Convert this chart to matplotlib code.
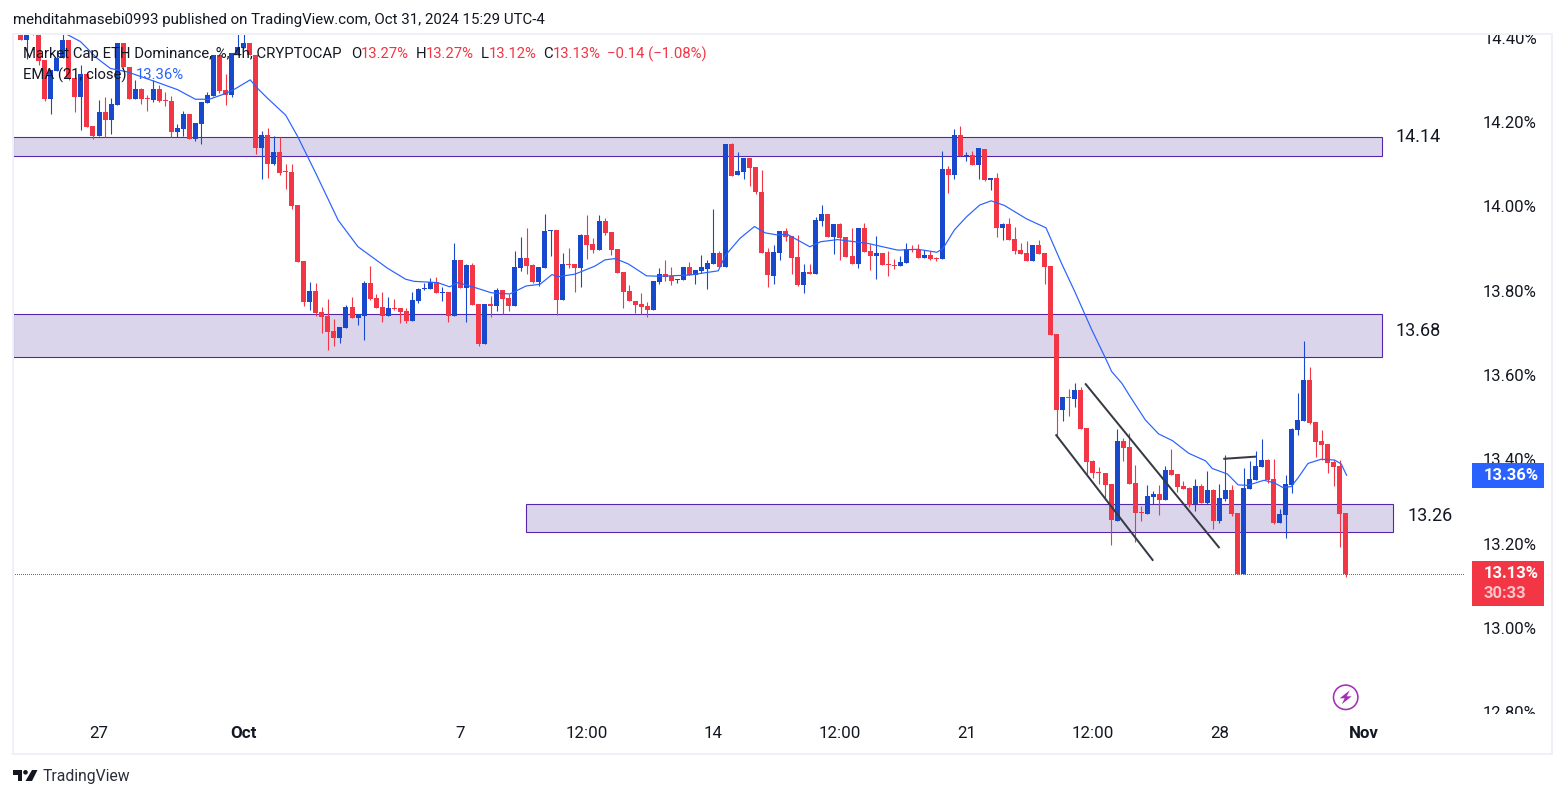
import numpy as np
import matplotlib
matplotlib.use('Agg')
import matplotlib.pyplot as plt
from matplotlib.patches import Rectangle, Circle, Polygon

plt.rcParams['font.family'] = 'Roboto'

# --- candles, one per 4h bar ---
opens = [
    14.44, 14.394, 14.406, 14.42, 14.347, 14.254, 14.321, 14.351, 14.394, 14.305,
    14.259, 14.313, 14.190, 14.167, 14.224, 14.205, 14.240, 14.387, 14.330, 14.254,
    14.278, 14.257, 14.252, 14.278, 14.252, 14.250, 14.176, 14.183, 14.219, 14.160,
    14.195, 14.245, 14.262, 14.359, 14.276, 14.264, 14.361, 14.375, 14.387, 14.359,
    14.138, 14.169, 14.100, 14.129, 14.084, 14.081, 14.003, 13.870, 13.773, 13.799,
    13.749, 13.740, 13.704, 13.687, 13.711, 13.761, 13.735, 13.740, 13.818, 13.782,
    13.761, 13.740, 13.759, 13.759, 13.752, 13.728, 13.775, 13.804, 13.804, 13.820,
    13.794, 13.797, 13.740, 13.873, 13.806, 13.861, 13.768, 13.673, 13.768, 13.763,
    13.801, 13.782, 13.763, 13.854, 13.877, 13.861, 13.820, 13.854, 13.941, 13.944,
    13.778, 13.863, 13.863, 13.854, 13.932, 13.911, 13.896, 13.965, 13.939, 13.899,
    13.844, 13.799, 13.775, 13.768, 13.763, 13.754, 13.820, 13.839, 13.834, 13.824,
    13.825, 13.856, 13.837, 13.846, 13.851, 13.863, 13.889, 13.856, 14.148, 14.074,
    14.081, 14.115, 14.093, 14.034, 13.891, 13.834, 13.889, 13.941, 13.929, 13.880,
    13.813, 13.844, 13.839, 13.965, 13.982, 13.927, 13.958, 13.927, 13.882, 13.863,
    13.948, 13.894, 13.882, 13.889, 13.863, 13.861, 13.858, 13.865, 13.899, 13.896,
    13.877, 13.884, 13.877, 13.875, 14.088, 14.074, 14.169, 14.119, 14.122, 14.098,
    14.136, 14.062, 14.067, 13.948, 13.958, 13.922, 13.896, 13.889, 13.870, 13.908,
    13.889, 13.858, 13.697, 13.517, 13.548, 13.543, 13.564, 13.474, 13.396, 13.370,
    13.367, 13.341, 13.253, 13.443, 13.429, 13.343, 13.275, 13.270, 13.310, 13.317,
    13.303, 13.374, 13.365, 13.336, 13.332, 13.294, 13.336, 13.296, 13.327, 13.253,
    13.305, 13.327, 13.272, 13.128, 13.329, 13.351, 13.381, 13.398, 13.353, 13.249,
    13.268, 13.339, 13.469, 13.491, 13.588, 13.488, 13.443, 13.436, 13.393, 13.384,
    13.272]
closes = [
    14.394, 14.406, 14.408, 14.345, 14.254, 14.323, 14.351, 14.394, 14.302, 14.259,
    14.313, 14.188, 14.167, 14.224, 14.205, 14.243, 14.387, 14.330, 14.254, 14.278,
    14.254, 14.254, 14.278, 14.250, 14.249, 14.176, 14.186, 14.219, 14.160, 14.197,
    14.247, 14.264, 14.359, 14.273, 14.264, 14.364, 14.378, 14.387, 14.359, 14.138,
    14.169, 14.100, 14.129, 14.079, 14.081, 14.000, 13.869, 13.773, 13.799, 13.747,
    13.737, 13.702, 13.687, 13.714, 13.761, 13.735, 13.744, 13.818, 13.780, 13.759,
    13.740, 13.759, 13.756, 13.749, 13.728, 13.778, 13.804, 13.806, 13.820, 13.794,
    13.797, 13.740, 13.873, 13.806, 13.861, 13.766, 13.673, 13.768, 13.763, 13.801,
    13.780, 13.763, 13.856, 13.877, 13.858, 13.820, 13.856, 13.941, 13.944, 13.778,
    13.863, 13.861, 13.854, 13.932, 13.908, 13.896, 13.965, 13.937, 13.896, 13.842,
    13.797, 13.775, 13.766, 13.761, 13.754, 13.823, 13.839, 13.832, 13.823, 13.827,
    13.856, 13.837, 13.849, 13.856, 13.865, 13.889, 13.856, 14.148, 14.072, 14.084,
    14.115, 14.091, 14.034, 13.889, 13.837, 13.891, 13.941, 13.927, 13.877, 13.813,
    13.844, 13.839, 13.967, 13.982, 13.927, 13.958, 13.925, 13.880, 13.863, 13.948,
    13.891, 13.882, 13.889, 13.861, 13.861, 13.858, 13.868, 13.899, 13.896, 13.877,
    13.884, 13.875, 13.875, 14.088, 14.074, 14.169, 14.119, 14.122, 14.098, 14.138,
    14.062, 14.067, 13.948, 13.958, 13.920, 13.894, 13.887, 13.870, 13.908, 13.887,
    13.856, 13.695, 13.517, 13.548, 13.545, 13.564, 13.472, 13.393, 13.367, 13.367,
    13.339, 13.256, 13.443, 13.426, 13.341, 13.272, 13.272, 13.313, 13.317, 13.303,
    13.374, 13.362, 13.334, 13.329, 13.291, 13.336, 13.296, 13.327, 13.253, 13.308,
    13.327, 13.270, 13.128, 13.332, 13.353, 13.384, 13.398, 13.351, 13.249, 13.270,
    13.341, 13.472, 13.493, 13.588, 13.486, 13.441, 13.434, 13.391, 13.381, 13.270,
    13.128]
highs = [
    14.45, 14.42, 14.412, 14.43, 14.347, 14.323, 14.372, 14.410, 14.394, 14.305,
    14.335, 14.313, 14.190, 14.252, 14.259, 14.257, 14.387, 14.387, 14.330, 14.300,
    14.281, 14.264, 14.300, 14.288, 14.271, 14.262, 14.195, 14.226, 14.219, 14.197,
    14.247, 14.271, 14.359, 14.359, 14.314, 14.364, 14.415, 14.415, 14.387, 14.359,
    14.179, 14.186, 14.167, 14.164, 14.100, 14.100, 14.003, 13.870, 13.820, 13.818,
    13.761, 13.780, 13.733, 13.714, 13.766, 13.785, 13.744, 13.823, 13.858, 13.792,
    13.797, 13.785, 13.780, 13.759, 13.759, 13.797, 13.806, 13.818, 13.830, 13.832,
    13.808, 13.797, 13.913, 13.873, 13.863, 13.865, 13.768, 13.768, 13.787, 13.806,
    13.801, 13.792, 13.894, 13.927, 13.948, 13.863, 13.856, 13.982, 13.944, 13.944,
    13.889, 13.901, 13.863, 13.934, 13.979, 13.925, 13.979, 13.972, 13.939, 13.899,
    13.844, 13.813, 13.775, 13.794, 13.773, 13.823, 13.854, 13.872, 13.856, 13.827,
    13.856, 13.868, 13.849, 13.884, 13.872, 13.993, 13.894, 14.148, 14.150, 14.129,
    14.115, 14.115, 14.093, 14.086, 13.901, 13.908, 13.941, 13.948, 13.929, 13.932,
    13.863, 13.863, 13.974, 14.003, 13.982, 13.958, 13.960, 13.927, 13.948, 13.948,
    13.960, 13.910, 13.929, 13.889, 13.894, 13.875, 13.882, 13.913, 13.908, 13.910,
    13.896, 13.894, 13.880, 14.131, 14.096, 14.183, 14.190, 14.129, 14.131, 14.138,
    14.136, 14.067, 14.079, 13.960, 13.972, 13.951, 13.913, 13.918, 13.908, 13.920,
    13.889, 13.858, 13.697, 13.548, 13.567, 13.581, 13.571, 13.474, 13.398, 13.381,
    13.367, 13.341, 13.472, 13.450, 13.462, 13.386, 13.289, 13.339, 13.324, 13.339,
    13.384, 13.424, 13.366, 13.348, 13.334, 13.353, 13.341, 13.372, 13.329, 13.341,
    13.410, 13.339, 13.272, 13.379, 13.396, 13.419, 13.448, 13.400, 13.400, 13.282,
    13.362, 13.474, 13.557, 13.680, 13.619, 13.488, 13.469, 13.436, 13.398, 13.398,
    13.272]
lows = [
    14.394, 14.349, 14.406, 14.335, 14.250, 14.220, 14.321, 14.351, 14.300, 14.224,
    14.181, 14.188, 14.160, 14.167, 14.164, 14.171, 14.240, 14.323, 14.254, 14.254,
    14.243, 14.226, 14.247, 14.247, 14.238, 14.164, 14.164, 14.167, 14.160, 14.155,
    14.148, 14.245, 14.262, 14.269, 14.240, 14.259, 14.361, 14.375, 14.359, 14.124,
    14.065, 14.067, 14.098, 14.074, 14.041, 13.993, 13.869, 13.763, 13.754, 13.740,
    13.699, 13.659, 13.668, 13.676, 13.711, 13.735, 13.718, 13.683, 13.778, 13.759,
    13.725, 13.740, 13.754, 13.723, 13.723, 13.728, 13.770, 13.801, 13.804, 13.794,
    13.775, 13.725, 13.740, 13.806, 13.725, 13.766, 13.668, 13.673, 13.737, 13.752,
    13.744, 13.752, 13.763, 13.846, 13.839, 13.818, 13.811, 13.854, 13.882, 13.742,
    13.778, 13.854, 13.797, 13.808, 13.875, 13.889, 13.896, 13.932, 13.884, 13.842,
    13.759, 13.775, 13.747, 13.744, 13.737, 13.754, 13.815, 13.823, 13.813, 13.818,
    13.825, 13.837, 13.815, 13.842, 13.804, 13.863, 13.856, 13.856, 14.072, 14.074,
    14.065, 14.048, 14.029, 13.889, 13.808, 13.815, 13.872, 13.918, 13.839, 13.811,
    13.794, 13.839, 13.839, 13.953, 13.927, 13.887, 13.872, 13.880, 13.863, 13.853,
    13.891, 13.849, 13.827, 13.861, 13.834, 13.851, 13.858, 13.865, 13.891, 13.877,
    13.877, 13.872, 13.870, 13.875, 14.031, 14.065, 14.119, 14.107, 14.098, 14.065,
    14.060, 14.039, 13.927, 13.920, 13.920, 13.887, 13.887, 13.870, 13.870, 13.887,
    13.815, 13.695, 13.452, 13.491, 13.503, 13.524, 13.472, 13.365, 13.355, 13.341,
    13.303, 13.196, 13.253, 13.396, 13.341, 13.203, 13.253, 13.270, 13.294, 13.268,
    13.303, 13.362, 13.322, 13.329, 13.286, 13.277, 13.296, 13.294, 13.234, 13.249,
    13.301, 13.265, 13.128, 13.128, 13.329, 13.351, 13.381, 13.343, 13.246, 13.249,
    13.213, 13.320, 13.457, 13.491, 13.484, 13.405, 13.398, 13.367, 13.336, 13.192,
    13.120]

# EMA(21), bar number and value
ema_bars = [
    7.4, 9.9, 12.7, 14.9, 17.7, 22.1, 26, 29, 31.3, 33.7, 35.4, 38.1, 39.3, 41, 44, 46, 49, 52.7,
    56, 60.9, 63.9, 65.3, 69.2, 71.2, 72.6, 75.9, 78.1, 81.2, 83.9, 86.2, 88.2, 89.2, 92, 95.3,
    97, 98.7, 100.9, 103.9, 106.1, 111.1, 115.8, 117, 119.4, 121.8, 123.6, 125.6, 127.2, 131,
    132.8, 135.6, 140.6, 145.6, 148.9, 152.1, 153.1, 155, 157, 159.2, 161.1, 163.3, 167, 170.2,
    171.7, 172.8, 175, 177.8, 180.1, 181.1, 182.8, 184.2, 186.7, 188.9, 191.2, 193.9, 196.7,
    197.8, 200.3, 202.1, 203.7, 206.4, 208.1, 209.5, 210.9, 212, 213.7, 215.9, 218.1, 219.2, 220.1]
ema_vals = [
    14.410, 14.391, 14.351, 14.327, 14.319, 14.297, 14.277, 14.254, 14.254, 14.266, 14.277, 14.300,
    14.280, 14.256, 14.216, 14.165, 14.078, 13.967,
    13.904, 13.853, 13.827, 13.822, 13.819, 13.809, 13.819, 13.805, 13.795, 13.792, 13.811, 13.815,
    13.838, 13.833, 13.839, 13.858, 13.873, 13.876, 13.863, 13.835, 13.834, 13.837, 13.847, 13.884,
    13.924, 13.952, 13.937, 13.932, 13.934, 13.904, 13.916, 13.921, 13.912, 13.896, 13.898, 13.891,
    13.900, 13.944, 13.975, 14.003, 14.013, 14.002, 13.970, 13.949, 13.900, 13.864, 13.797, 13.707,
    13.639, 13.608, 13.580, 13.548, 13.493, 13.460, 13.444, 13.414, 13.396, 13.378, 13.365, 13.339,
    13.338, 13.350, 13.344, 13.333, 13.335, 13.355, 13.390, 13.400, 13.398, 13.389, 13.362]

# support / resistance boxes
band_start = [-1.3, -1.3, 83.9]
band_end = [226, 226, 227.8]
band_top = [14.164, 13.745, 13.294]
band_bottom = [14.119, 13.642, 13.227]
band_labels = ['14.14', '13.68', '13.26']
band_label_bars = [232, 232, 234]
band_label_prices = [14.164, 13.705, 13.265]

# hand drawn trend lines: bar0, price0, bar1, price1
trend_lines = [
    (171.9, 13.457, 187.9, 13.161),
    (176.8, 13.578, 198.9, 13.191),
    (199.8, 13.401, 204.9, 13.406),
]

price_ticks = [12.8, 13.0, 13.2, 13.4, 13.6, 13.8, 14.0, 14.2, 14.4]
time_ticks = [13, 37, 73, 94, 115, 136, 157, 178, 199, 223]
time_labels = ['27', 'Oct', '7', '12:00', '14', '12:00', '21', '12:00', '28', 'Nov']
bold_time_labels = ['Oct', 'Nov']

RED = '#f23645'
BLUE = '#1848cc'
EMA_BLUE = '#2962ff'
DARK = '#131722'
BAND_FACE = '#dbd5ec'
BAND_EDGE = '#5327a8'
FRAME = '#f0f0f7'
PX = 0.72  # points per pixel at dpi=100

W, H = 1564, 798
fig = plt.figure(figsize=(W / 100, H / 100), dpi=100, facecolor='white')
ax = fig.add_axes([13 / W, 1 - 714 / H, 1539 / W, 680 / H])
ax.set_xlim(-1.278, 254.2)
ax.set_ylim(12.7955, 14.4088)

o = np.array(opens)
c = np.array(closes)
bars = np.arange(len(o))
colors = [BLUE if c[i] >= o[i] else RED for i in bars]

for i in range(3):
    ax.add_patch(Rectangle((band_start[i], band_bottom[i]), band_end[i] - band_start[i],
                           band_top[i] - band_bottom[i], facecolor=BAND_FACE, edgecolor=BAND_EDGE,
                           lw=1.1 * PX, zorder=1))
    ax.text(band_label_bars[i], band_label_prices[i], band_labels[i], ha='center', va='center',
            fontsize=13, color=DARK, zorder=6)

ax.vlines(bars, lows, highs, colors=colors, lw=1.1 * PX, zorder=2)
ax.bar(bars, np.maximum(np.abs(c - o), 0.003), bottom=np.minimum(o, c), width=0.83, color=colors,
       linewidth=0, antialiased=False, zorder=2.5)
ax.plot(ema_bars, ema_vals, color=EMA_BLUE, lw=1.2 * PX, zorder=3)
for b0, p0, b1, p1 in trend_lines:
    ax.plot([b0, b1], [p0, p1], color='#363a45', lw=2 * PX, zorder=4)

# last price line
ax.plot([0, 0.9435], [closes[-1], closes[-1]], transform=ax.get_yaxis_transform(), color=RED,
        lw=1 * PX, ls=(0, (1, 2)), antialiased=False, zorder=3)

ax.patch.set_visible(False)
for spine in ax.spines.values():
    spine.set_visible(False)
ax.yaxis.tick_right()
ax.set_yticks(price_ticks)
ax.set_yticklabels(['%.2f%%' % p for p in price_ticks])
ax.tick_params(axis='y', length=0, pad=-15 * PX, labelsize=12, labelcolor=DARK)
ax.set_xticks(time_ticks)
ax.set_xticklabels(time_labels)
ax.tick_params(axis='x', length=0, pad=11.5 * PX, labelsize=12.2, labelcolor=DARK)
for t in ax.get_xticklabels():
    if t.get_text() in bold_time_labels:
        t.set_fontweight('bold')
for t in ax.yaxis.get_major_ticks():
    t.label2.set_ha('right')
    t.label2.set_clip_on(True)
    t.label2.set_clip_box(ax.bbox)

# overlay in image pixels for the chrome around the chart
ov = fig.add_axes([0, 0, 1, 1], zorder=10)
ov.set_xlim(0, W)
ov.set_ylim(H, 0)
ov.axis('off')

ov.add_patch(Rectangle((13, 34), 1539, 720, fill=False, edgecolor=FRAME, lw=2 * PX))

ov.text(13, 20, 'mehditahmasebi0993 published on TradingView.com, Oct 31, 2024 15:29 UTC-4',
        ha='left', va='center', fontsize=10.8, color=DARK)
ov.text(23, 54, 'Market Cap ETH Dominance, %, 4h, CRYPTOCAP', ha='left', va='center', fontsize=10.7,
        color=DARK)
ov.text(23, 75, 'EMA (21, close)', ha='left', va='center', fontsize=10.7, color=DARK)
ov.text(136, 75, '13.36%', ha='left', va='center', fontsize=10.7, color=EMA_BLUE)

header = [(351, 'O', DARK), (361, '13.27%', RED), (416, 'H', DARK), (426, '13.27%', RED),
          (481, 'L', DARK), (489, '13.12%', RED), (543, 'C', DARK), (553, '13.13%', RED),
          (607, '\u22120.14 (\u22121.08%)', RED)]
for x, s, col in header:
    ov.text(x, 54, s, ha='left', va='center', fontsize=10.7, color=col)

# price tags
ov.add_patch(Rectangle((1472, 463), 72, 25, facecolor=EMA_BLUE, edgecolor='none'))
ov.text(1484, 475.5, '13.36%', ha='left', va='center', fontsize=12, color='white', fontweight='bold')
ov.add_patch(Rectangle((1472, 561), 72, 45, facecolor=RED, edgecolor='none'))
ov.text(1484, 573.5, '13.13%', ha='left', va='center', fontsize=12, color='white', fontweight='bold')
ov.text(1484, 594, '30:33', ha='left', va='center', fontsize=12, color='#fcc5ca', fontweight='bold')

# lightning badge
cx, cy = 1345.7, 697.3
ov.add_patch(Circle((cx, cy), 12.2, fill=False, edgecolor='#a32fb5', lw=1.6 * PX))
ov.add_patch(Polygon([(cx + 4, cy - 7), (cx - 6, cy + 1), (cx - 1, cy + 1), (cx - 4, cy + 7),
                      (cx + 6, cy - 1), (cx + 1, cy - 1)], facecolor='#a32fb5', edgecolor='none'))

# TradingView logo
ov.add_patch(Polygon([(13, 770), (22, 770), (22, 781), (17.5, 781), (17.5, 774.5), (13, 774.5)],
                     facecolor=DARK, edgecolor='none'))
ov.add_patch(Circle((25.5, 772.3), 2.3, facecolor=DARK, edgecolor='none'))
ov.add_patch(Polygon([(32, 770), (37.5, 770), (32, 781), (25.5, 781)], facecolor=DARK, edgecolor='none'))
ov.text(42.5, 776.5, 'TradingView', ha='left', va='center', fontsize=11.3, color='#2a2e39')

fig.savefig('out.png', dpi=100)
